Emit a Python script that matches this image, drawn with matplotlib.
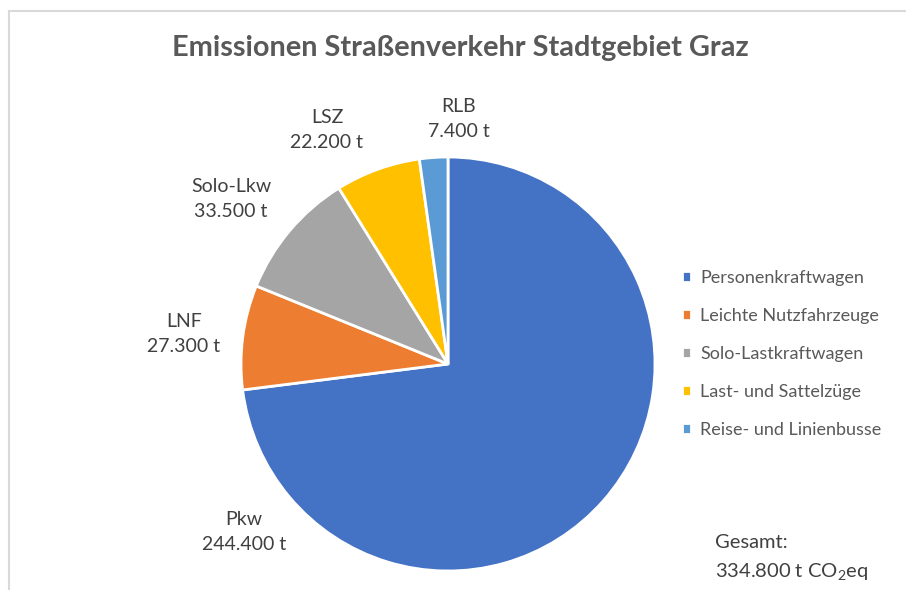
import matplotlib
matplotlib.use("Agg")
import matplotlib.pyplot as plt
from matplotlib.patches import Rectangle

plt.rcParams['font.family'] = ['Lato', 'DejaVu Sans']
plt.rcParams['mathtext.fontset'] = 'custom'
plt.rcParams['mathtext.rm'] = 'Lato'
plt.rcParams['mathtext.it'] = 'Lato'

# Data
categories = ["Personenkraftwagen", "Leichte Nutzfahrzeuge", "Solo-Lastkraftwagen",
              "Last- und Sattelzüge", "Reise- und Linienbusse"]
short_names = ["Pkw", "LNF", "Solo-Lkw", "LSZ", "RLB"]
values = [244.4, 27.3, 33.5, 22.2, 7.4]  # thousand t CO2eq
label_texts = ["244.400 t", "27.300 t", "33.500 t", "22.200 t", "7.400 t"]
total_text = "334.800 t CO$_2$eq"
colors = ["#4472C4", "#ED7D31", "#A5A5A5", "#FFC000", "#5B9BD5"]

W, H = 906, 590
fig = plt.figure(figsize=(W / 100, H / 100), dpi=100)

# chart frame
fig.patches.append(Rectangle((9 / W, -0.1), 1.2, 1 - 11 / H + 0.1, transform=fig.transFigure,
                             fill=False, edgecolor="#D9D9D9", linewidth=1.5))

# pie axes: centre (448, 364) px, radius 207 px
R = 207
cx, cy = 448, 364
ax = fig.add_axes([(cx - R) / W, (H - cy - R) / H, 2 * R / W, 2 * R / H])
wedges, _ = ax.pie(values, colors=colors, startangle=90, counterclock=False, radius=1,
                   wedgeprops=dict(edgecolor="white", linewidth=2))
ax.set_xlim(-1, 1)
ax.set_ylim(-1, 1)
ax.set_aspect("equal")
ax.axis("off")

# data label positions (pixel centres in reference)
label_px = [(244, 532), (184, 334), (231, 199), (327, 130), (459, 119)]
for name, txt, (px, py) in zip(short_names, label_texts, label_px):
    ax.text((px - cx) / R, (cy - py) / R, f"{name}\n{txt}", ha="center", va="center",
            fontsize=14, color="#404040", linespacing=1.6, clip_on=False)

# title
fig.text(460 / W, 1 - 48 / H, "Emissionen Straßenverkehr Stadtgebiet Graz", ha="center",
         va="center", fontsize=20.8, fontweight="bold", color="#595959")

# legend
fig.legend(wedges, categories, loc="center left", bbox_to_anchor=(666 / W, 1 - 354 / H),
           frameon=False, fontsize=13, labelcolor="#595959", handlelength=0.5,
           handleheight=0.5, handletextpad=0.5, labelspacing=1.22)

# total
fig.text(715 / W, 1 - 543 / H, "Gesamt:", ha="left", va="center", fontsize=14.5, color="#404040")
fig.text(715 / W, 1 - 572 / H, total_text, ha="left", va="center", fontsize=14.5, color="#404040")

fig.savefig("out.png", dpi=100)
